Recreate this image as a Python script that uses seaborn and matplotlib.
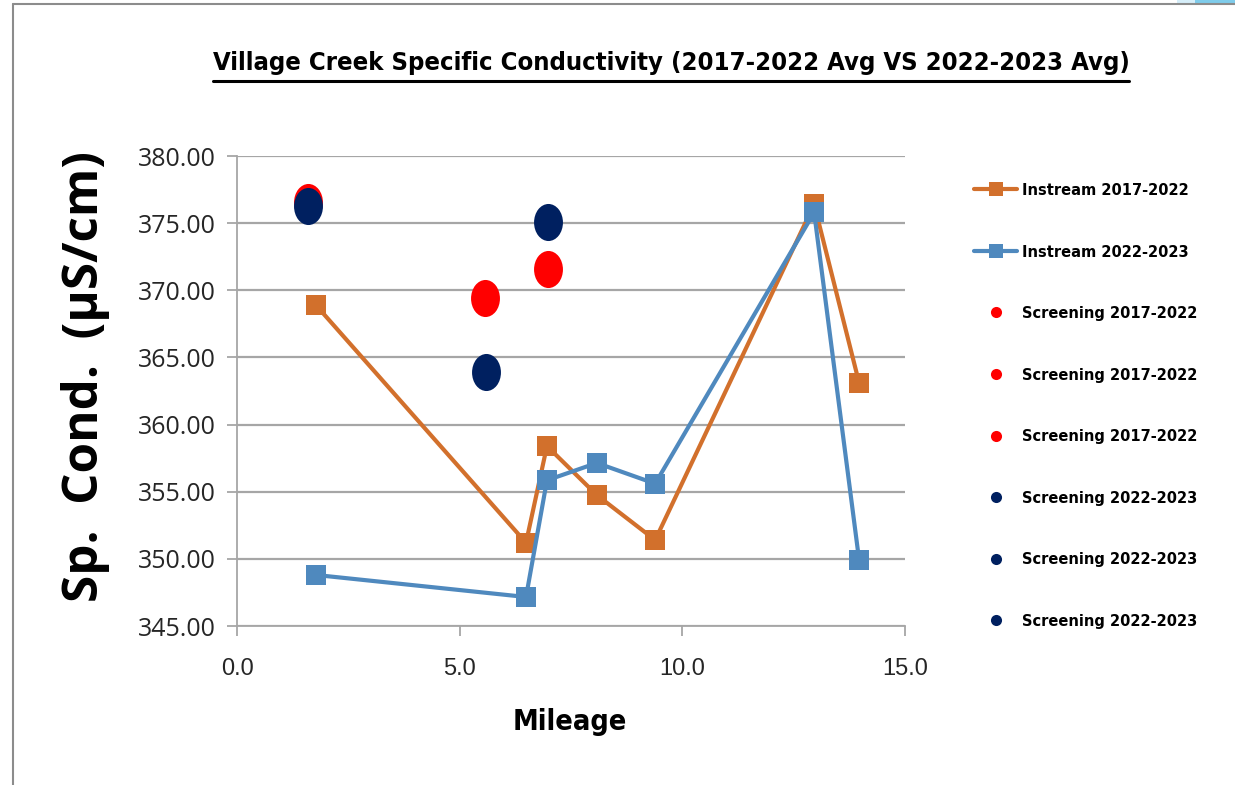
import numpy as np
import pandas as pd
import matplotlib
matplotlib.use("Agg")
import matplotlib.pyplot as plt
import seaborn as sns
from matplotlib.path import Path
from matplotlib.transforms import Affine2D
from matplotlib.lines import Line2D
from matplotlib.patches import Rectangle

# ---------------- data ----------------
instream_mile = [1.77, 6.49, 6.96, 8.08, 9.39, 12.96, 13.97]
instream_1722 = [368.9, 351.2, 358.4, 354.75, 351.4, 376.4, 363.1]
instream_2223 = [348.8, 347.16, 355.85, 357.14, 355.6, 375.8, 349.9]

screen_1722_mile = [1.6, 5.57, 6.98]
screen_1722_val = [376.6, 369.4, 371.6]
screen_2223_mile = [1.6, 5.59, 6.98]
screen_2223_val = [376.3, 363.9, 375.1]

label_in_1722 = "Instream 2017-2022"
label_in_2223 = "Instream 2022-2023"
label_sc_1722 = "Screening 2017-2022"
label_sc_2223 = "Screening 2022-2023"

title = "Village Creek Specific Conductivity (2017-2022 Avg VS 2022-2023 Avg)"
xlabel = "Mileage"
ylabel = "Sp.  Cond.  (\u00b5S/cm)"
yticks = [345, 350, 355, 360, 365, 370, 375, 380]
xticks = [0, 5, 10, 15]

# ---------------- style ----------------
sns.set_theme(style="white")
NARROW = ["DejaVu Sans", "Liberation Sans"]
plt.rcParams["font.family"] = ["Open Sans", "DejaVu Sans"]
plt.rcParams["text.color"] = "black"

C_OR = "#D2702C"
C_BL = "#4F89BE"
C_RED = "#FF0000"
C_NAVY = "#002060"
GRID = "#A6A6A6"

W, H = 1235, 785
fig = plt.figure(figsize=(12.35, 7.85), dpi=100)
ax = fig.add_axes([237 / W, 1 - 626 / H, (905 - 237) / W, (626 - 156) / H])

ellipse = Path.unit_circle().transformed(Affine2D().scale(0.78, 1.0))

df1 = pd.DataFrame({"x": instream_mile, "y": instream_1722})
df2 = pd.DataFrame({"x": instream_mile, "y": instream_2223})
sns.lineplot(data=df1, x="x", y="y", ax=ax, color=C_OR, lw=3, marker="s",
             markersize=14, markeredgewidth=0, sort=False, zorder=3, legend=False)
sns.lineplot(data=df2, x="x", y="y", ax=ax, color=C_BL, lw=3, marker="s",
             markersize=14, markeredgewidth=0, sort=False, zorder=4, legend=False)

for xv, yv in zip(screen_1722_mile, screen_1722_val):
    sns.scatterplot(x=[xv], y=[yv], ax=ax, color=C_RED, marker=ellipse, s=37 ** 2 * 0.52,
                    linewidth=0, zorder=5, legend=False)
for xv, yv in zip(screen_2223_mile, screen_2223_val):
    sns.scatterplot(x=[xv], y=[yv], ax=ax, color=C_NAVY, marker=ellipse, s=37 ** 2 * 0.52,
                    linewidth=0, zorder=6, legend=False)

ax.set_xlim(0, 15)
ax.set_ylim(345, 380)
ax.set_yticks(yticks)
ax.set_xticks(xticks)
ax.set_yticklabels([f"{v:.2f}" for v in yticks], fontsize=18, color="#262626")
ax.set_xticklabels([f"{v:.1f}" for v in xticks], fontsize=17, color="#262626",
                   family=["Liberation Sans", "DejaVu Sans"])
ax.set_xlabel("")
ax.set_ylabel("")
ax.yaxis.grid(True, color=GRID, lw=1.6)
ax.xaxis.grid(False)
ax.set_axisbelow(True)
for s in ["top", "right"]:
    ax.spines[s].set_visible(False)
for s in ["left", "bottom"]:
    ax.spines[s].set_color(GRID)
    ax.spines[s].set_linewidth(1.3)
ax.tick_params(axis="both", which="major", direction="out", length=7, width=1.3,
               color=GRID, left=True, bottom=True)
ax.tick_params(axis="y", pad=8)
ax.tick_params(axis="x", pad=16)

renderer = fig.canvas.get_renderer()


def fit_width(txt, target_px):
    w = txt.get_window_extent(renderer=renderer).width
    txt.set_fontsize(txt.get_fontsize() * target_px / w)


# labels
xl = fig.text(570 / W, 1 - 722 / H, xlabel, ha="center", va="center", fontsize=22,
              fontweight="bold", family=NARROW, fontstretch="condensed")
fit_width(xl, 114)
fig.text(86 / W, 1 - 377 / H, ylabel, ha="center", va="center", fontsize=35.5,
         fontweight="bold", rotation=90, color="black")
t = fig.text(671 / W, 1 - 63 / H, title, ha="center", va="center", fontsize=22,
             fontweight="bold", family=NARROW, fontstretch="condensed")
fit_width(t, 912)

# legend
handles = [
    Line2D([], [], color=C_OR, lw=3, marker="s", markersize=10, markeredgewidth=0),
    Line2D([], [], color=C_BL, lw=3, marker="s", markersize=10, markeredgewidth=0),
]
labels = [label_in_1722, label_in_2223]
for _ in screen_1722_val:
    handles.append(Line2D([], [], ls="none", color=C_RED, marker="o", markersize=8,
                          markeredgewidth=0))
    labels.append(label_sc_1722)
for _ in screen_2223_val:
    handles.append(Line2D([], [], ls="none", color=C_NAVY, marker="o", markersize=8,
                          markeredgewidth=0))
    labels.append(label_sc_2223)

probe = fig.text(0, 0, label_in_1722, fontsize=13, fontweight="bold", family=NARROW,
                 fontstretch="condensed")
fit_width(probe, 166)
leg_fs = probe.get_fontsize()
probe.remove()
leg_px = leg_fs * 100 / 72
leg = fig.legend(handles, labels, loc="upper left",
                 bbox_to_anchor=(974 / W, 1 - (193 - leg_px * 0.62) / H),
                 frameon=False,
                 prop={"family": NARROW, "weight": "bold", "size": leg_fs, "stretch": "condensed"},
                 handlelength=43 / leg_px, handletextpad=5 / leg_px,
                 labelspacing=(65.6 - leg_px * 1.17) / leg_px, borderaxespad=0,
                 borderpad=0)

# frame decoration
fig.add_artist(Line2D([13 / W, 13 / W], [0, 1 - 4 / H], color="#8C8C8C", lw=1.5,
                      transform=fig.transFigure))
fig.add_artist(Line2D([13 / W, 1], [1 - 4 / H, 1 - 4 / H], color="#8C8C8C", lw=1.5,
                      transform=fig.transFigure))
fig.add_artist(Rectangle((1177 / W, 1 - 4 / H), 18 / W, 4 / H, color="#D6EEF9",
                         transform=fig.transFigure, lw=0))
fig.add_artist(Rectangle((1195 / W, 1 - 4 / H), 40 / W, 4 / H, color="#7FCCEB",
                         transform=fig.transFigure, lw=0))

# underline title
bb = t.get_window_extent(renderer=renderer).transformed(fig.transFigure.inverted())
uy = 1 - 81 / H
fig.add_artist(Line2D([bb.x0, bb.x1], [uy, uy], color="black", lw=2.2, transform=fig.transFigure))

fig.savefig("out.png", dpi=100, facecolor="white")
